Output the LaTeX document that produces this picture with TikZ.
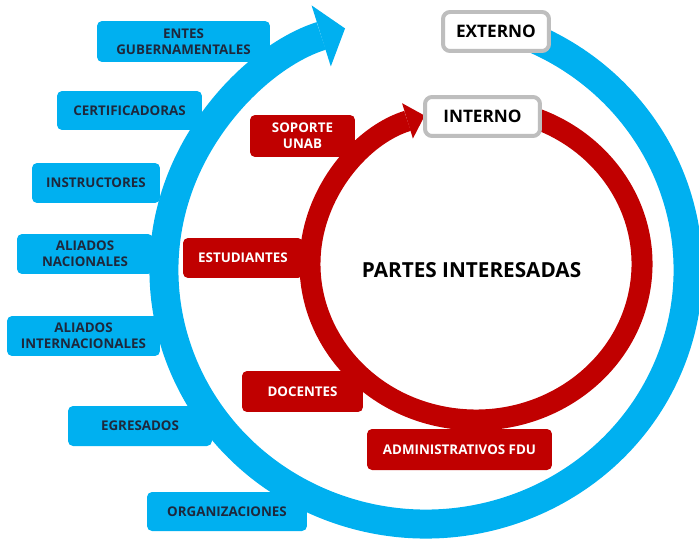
\documentclass[tikz,border=0pt]{standalone}
\usepackage{fontspec}
\setmainfont{Open Sans}
\usetikzlibrary{arrows.meta}

\definecolor{extblue}{RGB}{0,176,240}
\definecolor{intred}{RGB}{192,0,0}
\definecolor{labelnavy}{RGB}{30,40,60}
\definecolor{tagline}{RGB}{190,190,190}

\newcommand\boxfont{\fontsize{7.6}{9.2}\selectfont\bfseries}

\tikzset{
  extbox/.style={fill=extblue, text=labelnavy, font=\boxfont, align=center, rounded corners=0.1cm, inner sep=0pt},
  intbox/.style={fill=intred, text=white, font=\boxfont, align=center, rounded corners=0.1cm, inner sep=0pt},
  tagbox/.style={draw=tagline, line width=0.08cm, fill=white, rounded corners=0.14cm, font=\fontsize{9.8}{11}\selectfont\bfseries, minimum height=0.78cm, inner sep=0pt},
  extring/.style={draw=extblue, line width=0.58cm, -{Triangle[length=0.5cm, width=1.28cm, line width=0pt]}},
  intring/.style={draw=intred, line width=0.42cm, -{Triangle[length=0.36cm, width=0.74cm, line width=0pt]}},
}

\begin{document}
\begin{tikzpicture}[x=0.02cm, y=0.02cm]
\useasboundingbox (0,0) rectangle (699,538);

% Ringe
\coordinate (extC) at (426,268);
\coordinate (intC) at (476,274);
\draw[extring] ([shift={(extC)}]68:262 and 254) arc[start angle=68, end angle=-252, x radius=262, y radius=254];
\draw[intring] ([shift={(intC)}]80:166 and 156) arc[start angle=80, end angle=-252, x radius=166, y radius=156];

% Externe Partes
\node[extbox, minimum width=3.46cm, minimum height=0.82cm] (Entes) at (183.5,496.5) {ENTES\\GUBERNAMENTALES};
\node[extbox, minimum width=2.9cm, minimum height=0.78cm] (Certificadoras) at (129.5,427.5) {CERTIFICADORAS};
\node[extbox, minimum width=2.56cm, minimum height=0.8cm] (Instructores) at (96,355) {INSTRUCTORES};
\node[extbox, minimum width=2.72cm, minimum height=0.8cm] (AliadosNac) at (85,284) {ALIADOS\\NACIONALES};
\node[extbox, minimum width=3.06cm, minimum height=0.8cm] (AliadosInt) at (83.5,202) {ALIADOS\\INTERNACIONALES};
\node[extbox, minimum width=2.88cm, minimum height=0.8cm] (Egresados) at (140,112) {EGRESADOS};
\node[extbox, minimum width=3.2cm, minimum height=0.78cm] (Organizaciones) at (227,26.5) {ORGANIZACIONES};

% Interne Partes
\node[intbox, minimum width=2.1cm, minimum height=0.84cm] (Soporte) at (302.5,402) {SOPORTE\\UNAB};
\node[intbox, minimum width=2.4cm, minimum height=0.8cm] (Estudiantes) at (243,280) {ESTUDIANTES};
\node[intbox, minimum width=2.42cm, minimum height=0.82cm] (Docentes) at (302.5,146.5) {DOCENTES};
\node[intbox, minimum width=3.7cm, minimum height=0.82cm] (Administrativos) at (459.5,88.5) {ADMINISTRATIVOS FDU};

% Titel
\node[tagbox, minimum width=2.12cm] (Externo) at (496,506.5) {EXTERNO};
\node[tagbox, minimum width=2.3cm] (Interno) at (482.5,421.5) {INTERNO};
\node[font=\fontsize{11.8}{13}\selectfont\bfseries] (Partes) at (471.5,268) {PARTES INTERESADAS};

\end{tikzpicture}
\end{document}
